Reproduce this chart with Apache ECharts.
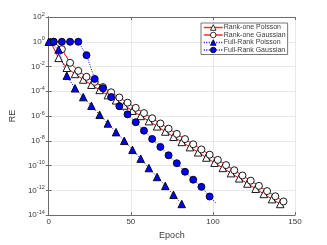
<!DOCTYPE html>
<html>
<head>
<meta charset="utf-8">
<script src="https://cdn.jsdelivr.net/npm/echarts@6/dist/echarts.min.js"></script>
<style>
html,body{margin:0;padding:0;background:#fff;}
#c{width:327px;height:245px;}
</style>
</head>
<body>
<div id="c"></div>
<script>
// Epochs where markers sit, and log10(RE) values
var rankOnePoissonEpochs = [1,6,11,16,21,26,31,36,41,46,51,56,61,66,71,76,81,86,91,96,101,106,111,116,121,126,131,136,141];
var rankOnePoissonLog10 = [0,-1.3,-2.1,-2.6,-3.05,-3.47,-3.89,-4.31,-4.73,-5.15,-5.57,-5.99,-6.41,-6.83,-7.25,-7.67,-8.09,-8.51,-8.93,-9.35,-9.77,-10.19,-10.61,-11.03,-11.45,-11.87,-12.29,-12.71,-13.1];

var rankOneGaussianEpochs = [3,8,13,18,23,28,33,38,43,48,53,58,63,68,73,78,83,88,93,98,103,108,113,118,123,128,133,138,143];
var rankOneGaussianLog10 = [0,-0.6,-1.7,-2.35,-2.83,-3.24,-3.66,-4.08,-4.5,-4.92,-5.34,-5.76,-6.18,-6.6,-7.02,-7.44,-7.86,-8.28,-8.7,-9.12,-9.54,-9.96,-10.38,-10.8,-11.22,-11.64,-12.06,-12.48,-12.9];

var fullRankPoissonEpochs = [0,6,11,16,21,26,31,36,41,46,51,56,61,66,71,76,81];
var fullRankPoissonLog10 = [0,-0.63,-2.75,-3.76,-4.47,-5.17,-5.9,-6.6,-7.3,-8.0,-8.73,-9.44,-10.2,-10.92,-11.64,-12.36,-13.1];

var fullRankGaussianEpochs = [3,8,13,18,23,28,33,38,43,48,53,58,63,68,73,78,83,88,93,98,102];
var fullRankGaussianLog10 = [0,0,0,0,-1.08,-3.0,-3.76,-4.47,-5.2,-5.86,-6.5,-7.18,-7.85,-8.49,-9.17,-9.81,-10.5,-11.14,-11.72,-12.5,-13.05];
var fullRankGaussianMarked = 20; // last point is the end of the line only

var seriesNames = ['Rank-one Poisson','Rank-one Gaussian','Full-Rank Poisson','Full-Rank Gaussian'];
var xTicks = [0,50,100,150];
var yTickExps = [2,0,-2,-4,-6,-8,-10,-12,-14];

function pts(ep, lg, nMarked){
  return ep.map(function(e,i){
    var d = {value:[e, Math.pow(10, lg[i])]};
    if (nMarked !== undefined && i >= nMarked) d.symbol = 'none';
    return d;
  });
}
var yTickVals = yTickExps.map(function(e){ return Math.pow(10, e); });

var chart = echarts.init(document.getElementById('c'), null, {renderer:'canvas'});
var FONT = 'Liberation Sans';
var AX = '#6b6b6b';
var TXT = '#3a3a3a';

function yLabel(v){
  var e = Math.round(Math.log(v)/Math.LN10);
  return '{b|10}{s|' + e + '}';
}

var styles = [
  {fill:'#ffffff', line:'#ff3030', type:'solid'},
  {fill:'#ffffff', line:'#ff3030', type:'solid'},
  {fill:'#0000ff', line:'#0000ff', type:[1,1.5]},
  {fill:'#0000ff', line:'#0000ff', type:[1,1.5]}
];

chart.setOption({
  animation:false,
  backgroundColor:'#fff',
  textStyle:{fontFamily:FONT},
  grid:{left:43, top:17, width:252, height:201, containLabel:false},
  legend:{
    orient:'vertical', left:201, top:23,
    data:seriesNames.map(function(n,i){
      return {name:n,
        itemStyle:{color:styles[i].fill, borderColor:'#000', borderWidth:0.8},
        lineStyle:{color:styles[i].line, width:1.5, type:styles[i].type}};
    }),
    itemWidth:19, itemHeight:7, itemGap:0.5,
    padding:[1,2,1,2],
    borderColor:'#555', borderWidth:0.8, backgroundColor:'#fff',
    textStyle:{fontFamily:FONT, fontSize:7, lineHeight:7, color:TXT, padding:[0,0,0,-4]}
  },
  xAxis:[{
    type:'value', min:xTicks[0], max:xTicks[xTicks.length-1], interval:50,
    name:'Epoch', nameLocation:'middle', nameGap:11,
    nameTextStyle:{fontFamily:FONT, fontSize:9, color:TXT},
    axisLine:{show:true, onZero:false, lineStyle:{color:AX, width:1}},
    axisTick:{show:true, inside:true, length:3, lineStyle:{color:AX}},
    axisLabel:{fontFamily:FONT, fontSize:8, color:TXT, margin:3},
    splitLine:{show:true, lineStyle:{color:'#e8e8e8', width:1}}
  },{
    type:'value', position:'top', min:0, max:150, interval:50,
    axisLine:{show:true, lineStyle:{color:AX, width:1}},
    axisTick:{show:true, inside:true, length:3, lineStyle:{color:AX}},
    axisLabel:{show:false}, splitLine:{show:false}
  }],
  yAxis:[{
    type:'log', logBase:10, min:yTickVals[yTickVals.length-1], max:yTickVals[0],
    name:'RE', nameLocation:'middle', nameGap:26, nameRotate:90,
    nameTextStyle:{fontFamily:FONT, fontSize:9, color:TXT},
    axisLine:{show:true, lineStyle:{color:AX, width:1}},
    axisTick:{show:true, inside:true, length:3, lineStyle:{color:AX}, customValues:yTickVals},
    axisLabel:{fontFamily:FONT, fontSize:8, color:TXT, margin:4, formatter:yLabel, customValues:yTickVals,
      rich:{b:{fontFamily:FONT, fontSize:8, color:TXT}, s:{fontFamily:FONT, fontSize:5.5, color:TXT, padding:[0,0,6,0]}}},
    splitLine:{show:true, lineStyle:{color:'#e8e8e8', width:1}},
    minorTick:{show:false}
  },{
    type:'log', logBase:10, position:'right', min:yTickVals[yTickVals.length-1], max:yTickVals[0],
    axisLine:{show:true, lineStyle:{color:AX, width:1}},
    axisTick:{show:true, inside:true, length:3, lineStyle:{color:AX}, customValues:yTickVals},
    axisLabel:{show:false, customValues:yTickVals}, splitLine:{show:false}
  }],
  series:[{
    name:seriesNames[0], type:'line', data:pts(rankOnePoissonEpochs, rankOnePoissonLog10),
    symbol:'triangle', symbolSize:7.5, showAllSymbol:true,
    lineStyle:{color:'#ff0000', width:1, type:'solid'},
    itemStyle:{color:'#ffffff', borderColor:'#000', borderWidth:0.9}
  },{
    name:seriesNames[1], type:'line', data:pts(rankOneGaussianEpochs, rankOneGaussianLog10),
    symbol:'circle', symbolSize:7, showAllSymbol:true,
    lineStyle:{color:'#ff0000', width:1, type:'solid'},
    itemStyle:{color:'#ffffff', borderColor:'#000', borderWidth:0.9}
  },{
    name:seriesNames[2], type:'line', data:pts(fullRankPoissonEpochs, fullRankPoissonLog10),
    symbol:'triangle', symbolSize:7.5, showAllSymbol:true,
    lineStyle:{color:'#0000ff', width:1, type:[1,1.5]},
    itemStyle:{color:'#0000ff', borderColor:'#000', borderWidth:0.9}
  },{
    name:seriesNames[3], type:'line', data:pts(fullRankGaussianEpochs, fullRankGaussianLog10, fullRankGaussianMarked),
    symbol:'circle', symbolSize:7, showAllSymbol:true,
    lineStyle:{color:'#0000ff', width:1, type:[1,1.5]},
    itemStyle:{color:'#0000ff', borderColor:'#000', borderWidth:0.9}
  }]
});
</script>
</body>
</html>
